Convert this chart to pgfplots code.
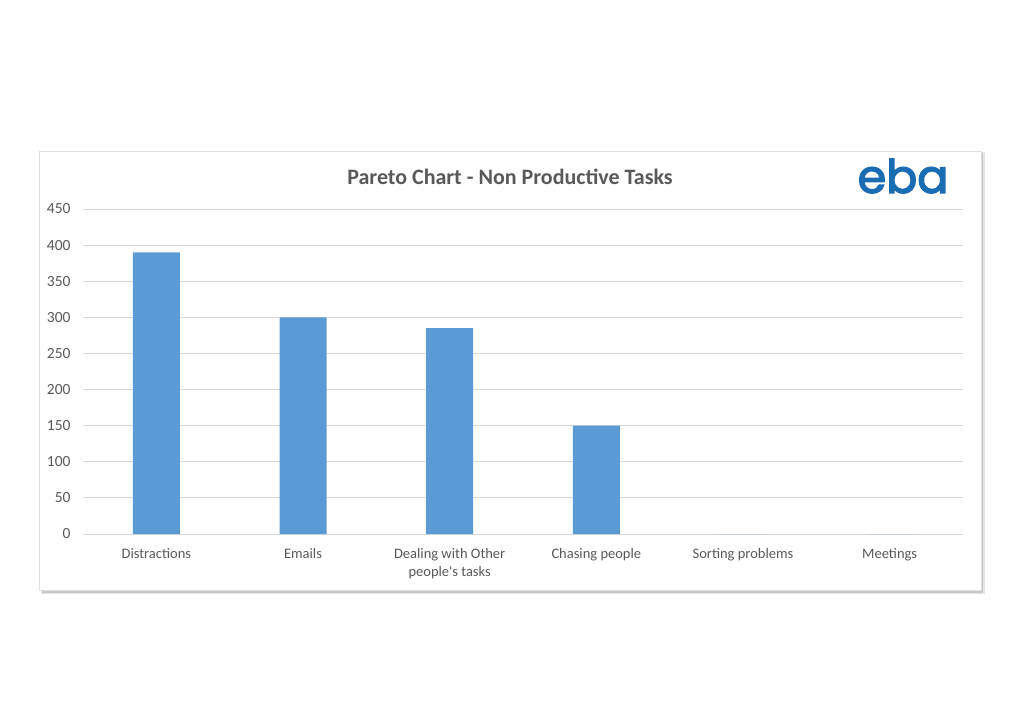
\documentclass[border=0pt]{standalone}
\usepackage{fontspec}
\setmainfont{Carlito}
\newfontfamily\logofont{Poppins}[FakeBold=3]
\usepackage{pgfplots}
\pgfplotsset{compat=1.18}
\definecolor{barblue}{HTML}{5B9BD5}
\definecolor{gridgray}{HTML}{D9D9D9}
\definecolor{txtgray}{HTML}{595959}
\definecolor{logoblue}{HTML}{1B6DB3}
\begin{document}
\begin{tikzpicture}[x=1pt,y=1pt]
\fill[white] (0,0) rectangle (1024,724);
% chart box with shadow
\fill[black!10] (41,130) rectangle (985,572);
\fill[black!22] (42,131) rectangle (983,571);
\fill[white] (39,134) rectangle (981,573);
\draw[black!12, line width=0.8pt] (39,134) rectangle (981,573);
\node[font=\bfseries\fontsize{22}{26}\selectfont, text=txtgray] at (510,547) {Pareto Chart - Non Productive Tasks};
\node[font=\logofont\fontsize{46}{50}\selectfont, text=logoblue] at (903,548) {eba};
\begin{axis}[
  at={(156.333pt,190pt)}, anchor=origin,
  scale only axis, width=880pt, height=325pt,
  xmin=-0.5, xmax=5.5, ymin=0, ymax=450,
  ybar, bar width=47pt,
  ytick={0,50,...,450},
  xtick={0,...,5},
  xticklabels={Distractions, Emails, {Dealing with Other\\people\textquotesingle s tasks}, Chasing people, Sorting problems, Meetings},
  ymajorgrids, grid style={gridgray, line width=1pt},
  axis line style={draw=none}, tick style={draw=none},
  /pgf/number format/assume math mode=true,
  yticklabel style={text=txtgray, font=\fontsize{15.5}{18}\selectfont, xshift=-9pt},
  xticklabel style={text=txtgray, font=\fontsize{14.5}{17.7}\selectfont, align=center, yshift=-7pt},
]
\addplot[fill=barblue, draw=none] coordinates {(0,390) (1,300) (2,285) (3,150) (4,0) (5,0)};
\end{axis}
\end{tikzpicture}
\end{document}
